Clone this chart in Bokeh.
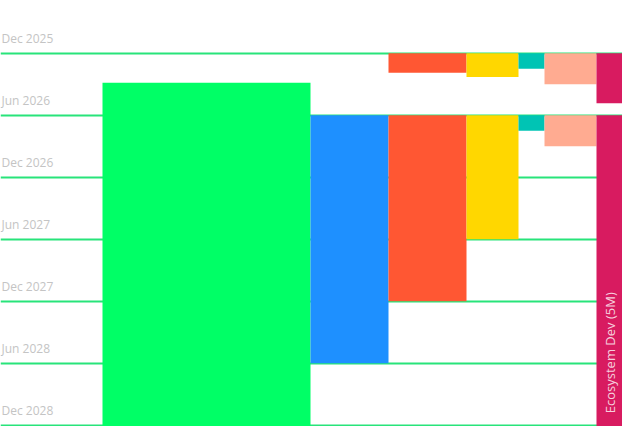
import numpy as np
from bokeh.plotting import figure
from bokeh.models import Range1d, FixedTicker, ColumnDataSource
from bokeh.embed import file_html
from bokeh.resources import INLINE
from bokeh.core.properties import value

# ---- data ----
allocations_m = [40, 15, 15, 10, 5, 10, 5]          # token allocation, millions
colors = ["#00FF66", "#1E90FF", "#FF5733", "#FFD700", "#00C4B4", "#FFAB91", "#D81B60"]

# segments: category index, start month, end month (months after Dec 2025)
seg_cat = [0, 1, 2, 2, 3, 3, 4, 4, 5, 5, 6, 6]
seg_start = [2.85, 6, 0, 6, 0, 6, 0, 6, 0, 6, 0, 6]
seg_end = [48, 30, 1.9, 24, 2.3, 18, 1.5, 7.5, 3.0, 9.0, 4.85, 48]

tick_months = [0, 6, 12, 18, 24, 30, 36]
tick_labels = ["Dec 2025", "Jun 2026", "Dec 2026", "Jun 2027",
               "Dec 2027", "Jun 2028", "Dec 2028"]

bar_label = "Ecosystem Dev (5M)"
bar_label_cat = 6

# ---- derived ----
right_edges = np.cumsum(allocations_m)
left_edges = right_edges - np.array(allocations_m)

src = ColumnDataSource(dict(
    left=[left_edges[c] for c in seg_cat],
    right=[right_edges[c] for c in seg_cat],
    top=seg_start,
    bottom=seg_end,
    color=[colors[c] for c in seg_cat],
))

x_start = -102 / 5.2
p = figure(width=622, height=426,
           x_range=Range1d(x_start, float(right_edges[-1])),
           y_range=Range1d(36.126, -5.1),
           output_backend="svg", toolbar_location=None, min_border=0)
p.outline_line_color = None
p.background_fill_color = "white"
p.border_fill_color = "white"

for ax in p.axis:
    ax.visible = False
p.yaxis.ticker = FixedTicker(ticks=tick_months)
p.xgrid.visible = False
p.ygrid.ticker = FixedTicker(ticks=tick_months)
p.ygrid.grid_line_color = "#28E47A"
p.ygrid.grid_line_width = 2

p.quad(left="left", right="right", top="top", bottom="bottom",
       fill_color="color", line_color=None, source=src)

p.text(x=[x_start] * len(tick_months), y=tick_months, text=tick_labels,
       text_font=value("Open Sans"), text_font_size="12px",
       text_color="#C4C4C4", text_baseline="alphabetic",
       x_offset=1, y_offset=-15)

cx = (left_edges[bar_label_cat] + right_edges[bar_label_cat]) / 2
p.text(x=[cx], y=[tick_months[-1]], text=[bar_label], angle=np.pi / 2,
       text_font=value("Open Sans"), text_font_size="13px",
       text_color="white", text_alpha=0.8,
       text_align="left", text_baseline="middle", y_offset=-12)

open("out.html", "w").write(file_html(p, INLINE))
